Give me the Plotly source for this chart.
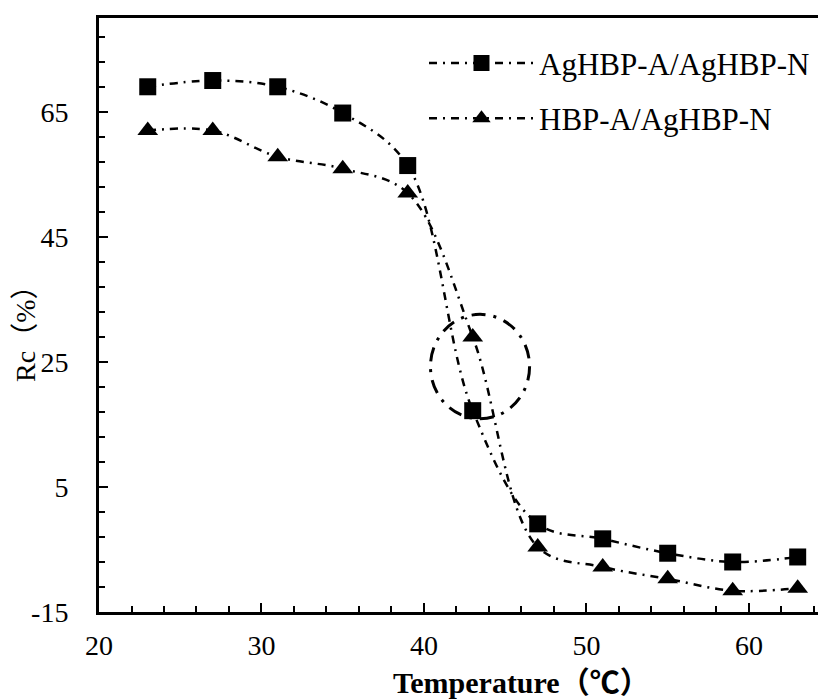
import plotly.graph_objects as go

temperature = [23, 27, 31, 35, 39, 43, 47, 51, 55, 59, 63]
ag_ag = [69.0, 70.0, 69.0, 64.8, 56.4, 17.2, -0.9, -3.3, -5.6, -7.0, -6.2]
hbp_ag = [62.0, 62.0, 57.8, 55.9, 52.0, 29.0, -4.6, -7.8, -9.7, -11.6, -11.2]
series_names = ["AgHBP-A/AgHBP-N", "HBP-A/AgHBP-N"]
x_tickvals = [20, 30, 40, 50, 60]
y_tickvals = [-15, 5, 25, 45, 65]
y_ticktext = ["-15", "5", "25", "45", "65"]
x_title = "Temperature（℃）"
y_title = "Rc（%）"

FONT = "Liberation Serif, Times New Roman, Noto Sans CJK SC, serif"
DASH = "8px,6px,2px,6px"

fig = go.Figure()
fig.add_trace(go.Scatter(
    x=temperature, y=ag_ag, name=series_names[0], mode="lines+markers",
    line=dict(color="black", width=2.5, dash=DASH, shape="spline"),
    marker=dict(symbol="square", size=17, color="black"),
    legendgroup="a",
))
fig.add_trace(go.Scatter(
    x=temperature, y=hbp_ag, name=series_names[1], mode="lines+markers",
    line=dict(color="black", width=2.5, dash=DASH, shape="spline"),
    marker=dict(symbol="triangle-up", size=18, color="black"),
    legendgroup="b",
))

# dashed ellipse highlighting the crossing region
fig.add_shape(type="circle", xref="x", yref="y",
              x0=40.4, x1=46.5, y0=15.9, y1=32.6,
              line=dict(color="black", width=3, dash="14px,8px,3px,8px"))

fig.update_layout(
    width=818, height=699,
    margin=dict(l=99, r=0, t=18, b=87),
    paper_bgcolor="white", plot_bgcolor="white",
    font=dict(family=FONT, size=28, color="black"),
    showlegend=True,
    legend=dict(x=0.452, y=0.969, xanchor="left", yanchor="top",
                bgcolor="rgba(0,0,0,0)", font=dict(size=31, family=FONT),
                itemwidth=105, tracegroupgap=12, traceorder="grouped"),
    xaxis=dict(range=[20, 64.25], tickvals=x_tickvals, ticks="inside",
               ticklen=9, tickwidth=2, tickcolor="black",
               showline=True, linecolor="black", linewidth=3, mirror=True,
               showgrid=False, zeroline=False, ticklabelstandoff=6,
               minor=dict(dtick=2, tick0=20, ticks="inside", ticklen=6,
                          tickwidth=2, tickcolor="black", showgrid=False),
               tickfont=dict(size=28, family=FONT)),
    yaxis=dict(range=[-15, 80], tickvals=y_tickvals, ticktext=y_ticktext,
               ticks="inside",
               ticklen=9, tickwidth=2, tickcolor="black",
               showline=True, linecolor="black", linewidth=3,
               showgrid=False, zeroline=False, ticklabelstandoff=22,
               minor=dict(dtick=4, tick0=-15, ticks="inside", ticklen=6,
                          tickwidth=2, tickcolor="black", showgrid=False),
               tickfont=dict(size=28, family=FONT)),
    annotations=[
        dict(text="<b>" + x_title + "</b>", xref="paper", yref="paper",
             x=0.587, y=-0.118, xanchor="center", yanchor="middle",
             showarrow=False, font=dict(size=30, family=FONT)),
        dict(text=y_title, xref="paper", yref="paper", textangle=-90,
             x=-0.1015, y=0.48, xanchor="center", yanchor="middle",
             showarrow=False, font=dict(size=28, family=FONT)),
    ],
)

fig.write_html("out.html")
